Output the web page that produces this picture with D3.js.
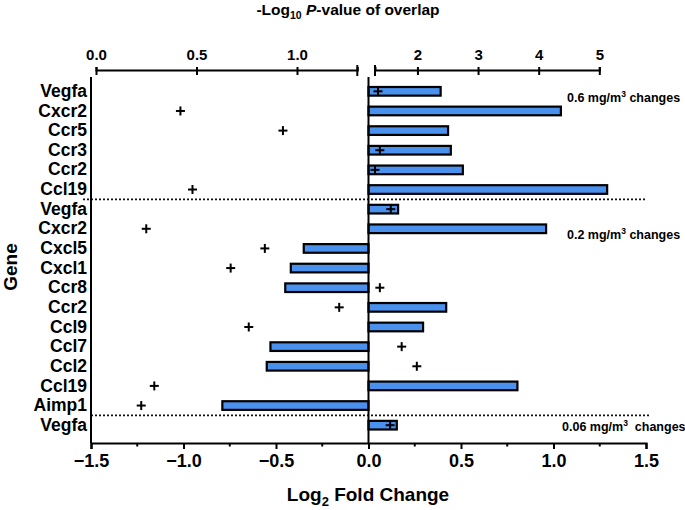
<!DOCTYPE html>
<html>
<head>
<meta charset="utf-8">
<script src="https://cdn.jsdelivr.net/npm/d3@7"></script>
<style>
  body { margin: 0; background: #fff; }
  svg { font-family: "Liberation Sans", Arial, sans-serif; font-weight: bold; }
</style>
</head>
<body>
<div id="chart"></div>
<script>
// Genes, top to bottom
const genes = ["Vegfa", "Cxcr2", "Ccr5", "Ccr3", "Ccr2", "Ccl19",
    "Vegfa", "Cxcr2", "Cxcl5", "Cxcl1", "Ccr8", "Ccr2", "Ccl9", "Ccl7", "Ccl2", "Ccl19", "Aimp1",
    "Vegfa"];
// Log2 fold change (bars)
const log2FC = [0.39, 1.04, 0.43, 0.445, 0.51, 1.29,
    0.16, 0.96, -0.35, -0.42, -0.45, 0.42, 0.295, -0.53, -0.55, 0.805, -0.79,
    0.153];
// -Log10 P-value of overlap (crosses)
const negLogP = [1.35, 0.42, 0.93, 1.38, 1.30, 0.48,
    1.56, 0.25, 0.84, 0.67, 1.38, 1.21, 0.76, 1.74, 1.99, 0.29, 0.225,
    1.55];
// group separators (after these rows) and dose labels
const groupBreaks = [5, 16];
const doseLabels = ["0.6", "0.2", "0.06"];
const doseRows = [0.3, 7.3, 17.05];
const fcTicks = [-1.5, -1.0, -0.5, 0.0, 0.5, 1.0, 1.5];
const pTicksLow = [0, 0.5, 1.0];
const pTicksHigh = [2, 3, 4, 5];
const pBreak = 1.3;

const W = 685, H = 510;
const svg = d3.select("#chart").append("svg").attr("width", W).attr("height", H);

const x = d3.scaleLinear().domain([-1.5, 1.5]).range([91, 646]);
const y = d3.scaleBand().domain(d3.range(genes.length)).range([76, 440.5]).padding(0.56);
const rowY = i => y(0) + y.bandwidth() / 2 + i * y.step();

// broken top axis
const pLow = d3.scaleLinear().domain([0, pBreak]).range([96, 357.3]);
const pHigh = d3.scaleLinear().domain([pBreak, 5]).range([375, 599.3]);
const p = v => v < pBreak ? pLow(v) : pHigh(v);

const axisTop = 70, axisBottom = 443;

// top axis segments
function topAxis(scale, ticks, fmt) {
    const g = svg.append("g").attr("transform", `translate(0,${axisTop})`)
        .call(d3.axisTop(scale).tickValues(ticks).tickFormat(fmt).tickSizeOuter(0).tickSize(3).tickPadding(7));
    g.select(".domain").attr("stroke-width", 2);
    g.selectAll(".tick line").attr("y1", 5).attr("y2", -3).attr("stroke-width", 2);
    g.selectAll(".tick text").attr("font-size", 15).attr("font-weight", "bold").attr("fill", "#000");
    return g;
}
topAxis(pLow, pTicksLow, d3.format(".1f"));
topAxis(pHigh, pTicksHigh, d3.format("d"));
// end caps at the break
[pLow(pBreak), pHigh(pBreak)].forEach(cx => {
    svg.append("line").attr("x1", cx).attr("x2", cx)
        .attr("y1", axisTop - 5).attr("y2", axisTop + 6)
        .attr("stroke", "#000").attr("stroke-width", 2);
});

const title = svg.append("text").attr("x", 348).attr("y", 15)
    .attr("text-anchor", "middle").attr("font-size", 15.5);
title.append("tspan").text("-Log");
title.append("tspan").attr("font-size", 10.5).attr("dy", 4).text("10");
title.append("tspan").attr("dy", -4).text(" ");
title.append("tspan").attr("font-style", "italic").text("P");
title.append("tspan").text("-value of overlap");

// dotted group separators
groupBreaks.forEach((b, i) => {
    const yy = rowY(b + 0.5);
    svg.append("line")
        .attr("x1", i === 0 ? 83 : 91).attr("x2", i === 0 ? 647 : 650)
        .attr("y1", yy).attr("y2", yy)
        .attr("stroke", "#111").attr("stroke-width", 1.7)
        .attr("stroke-dasharray", "2,2");
});

// bars
svg.append("g").selectAll("rect")
    .data(log2FC)
    .join("rect")
    .attr("x", d => x(Math.min(0, d)))
    .attr("width", d => Math.abs(x(d) - x(0)))
    .attr("y", (d, i) => y(i))
    .attr("height", y.bandwidth())
    .attr("fill", "#4a91ee")
    .attr("stroke", "#000")
    .attr("stroke-width", 2.2);

// bottom axis
const gx = svg.append("g").attr("transform", `translate(0,${axisBottom})`)
    .call(d3.axisBottom(x).tickValues(fcTicks).tickFormat(d3.format(".1f")).tickSizeOuter(0).tickSize(6).tickPadding(5));
gx.select(".domain").attr("stroke-width", 2.2);
gx.selectAll(".tick line").attr("stroke-width", 2);
gx.selectAll(".tick text").attr("font-size", 18).attr("font-weight", "bold").attr("fill", "#000");
// minor ticks
const minor = d3.range(-1.25, 1.5, 0.5);
svg.append("g").selectAll("line").data(minor).join("line")
    .attr("x1", d => x(d)).attr("x2", d => x(d))
    .attr("y1", axisBottom).attr("y2", axisBottom + 3.5)
    .attr("stroke", "#000").attr("stroke-width", 2);

// left axis with gene labels
const gy = svg.append("g").attr("transform", `translate(${x(-1.5)},0)`)
    .call(d3.axisLeft(y).tickFormat(i => genes[i]).tickSize(0).tickPadding(4));
gy.select(".domain").attr("d", `M0,77V${axisBottom}`).attr("stroke-width", 2);
gy.selectAll(".tick text").attr("font-size", 17.5).attr("font-weight", "bold").attr("fill", "#000");

// zero line
svg.append("line").attr("x1", x(0)).attr("x2", x(0))
    .attr("y1", 77).attr("y2", axisBottom)
    .attr("stroke", "#000").attr("stroke-width", 2);

// crosses on the p-value scale
const cross = svg.append("g").attr("stroke", "#000").attr("stroke-width", 2);
negLogP.forEach((v, i) => {
    const cx = p(v), cy = rowY(i);
    cross.append("line").attr("x1", cx - 4.5).attr("x2", cx + 4.5).attr("y1", cy).attr("y2", cy);
    cross.append("line").attr("x1", cx).attr("x2", cx).attr("y1", cy - 4.5).attr("y2", cy + 4.5);
});

// dose labels
doseLabels.forEach((d, i) => {
    const t = svg.append("text")
        .attr("x", i === 2 ? 562 : 567).attr("y", rowY(doseRows[i]))
        .attr("dy", "0.35em").attr("font-size", 12.5);
    t.append("tspan").text(d + " mg/m");
    t.append("tspan").attr("font-size", 8.5).attr("dy", -5).text("3");
    t.append("tspan").attr("dy", 5).text(i === 2 ? "\u00a0 changes" : " changes");
});

// axis titles
const xt = svg.append("text").attr("x", 368).attr("y", 501)
    .attr("text-anchor", "middle").attr("font-size", 19);
xt.append("tspan").text("Log");
xt.append("tspan").attr("font-size", 13).attr("dy", 5).text("2");
xt.append("tspan").attr("dy", -5).text(" Fold Change");

svg.append("text").attr("transform", "translate(17,267) rotate(-90)")
    .attr("text-anchor", "middle").attr("font-size", 19).text("Gene");
</script>
</body>
</html>
